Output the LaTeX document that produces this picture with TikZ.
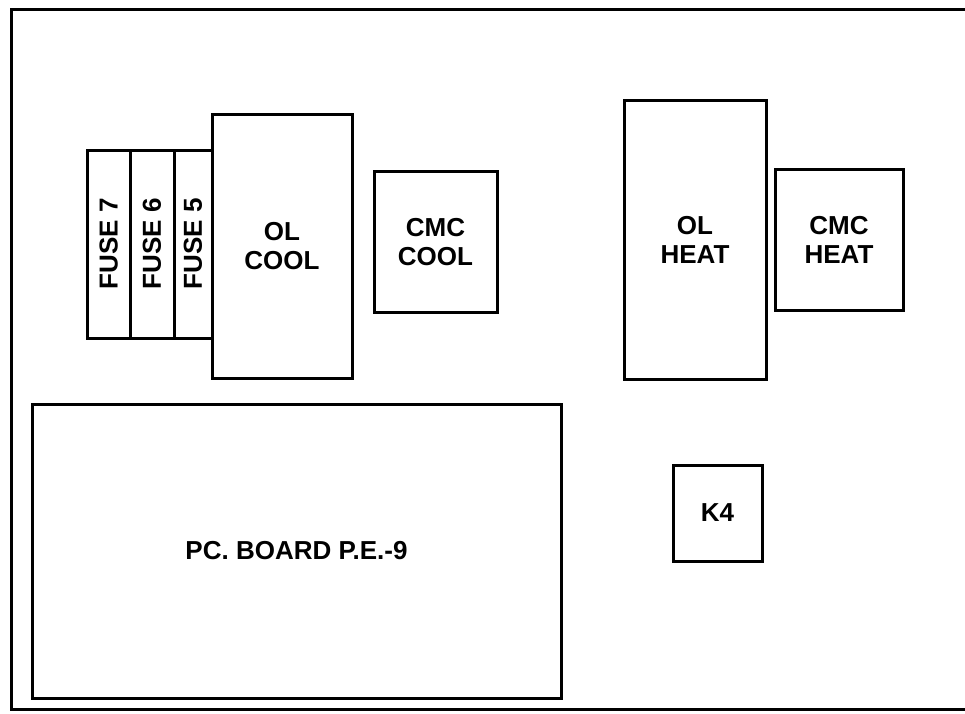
\documentclass[tikz,border=0pt]{standalone}
\usepackage{fontspec}
\setmainfont{Liberation Sans}
\usetikzlibrary{positioning}

\begin{document}
\begin{tikzpicture}[x=1pt,y=-1pt,
  part/.style={draw=black, line width=3pt, inner sep=0pt, align=center,
               font=\fontsize{26}{29}\selectfont\bfseries},
  fuse/.style={part, rotate=90, minimum width=188pt}
]
  \useasboundingbox (0,0) rectangle (965,713);

  % panel outline, open on the right
  \coordinate (tr) at (965,9);
  \coordinate (tl) at (11,9);
  \coordinate (bl) at (11,709);
  \coordinate (br) at (965,709);
  \draw[line width=3pt] (tr) -- (tl) -- (bl) -- (br);

  % cooling side
  \node[fuse, minimum height=42.5pt] (f7) at (108.75,244) {FUSE 7};
  \node[fuse, minimum height=44pt]   (f6) at (152,244)    {FUSE 6};
  \node[fuse, minimum height=38pt]   (f5) at (193,244)    {FUSE 5};
  \node[part, minimum width=140pt, minimum height=264pt] (olc)  at (282,246)   {OL\\COOL};
  \node[part, minimum width=123pt, minimum height=141pt] (cmcc) at (435.5,242) {CMC\\COOL};

  % heating side
  \node[part, minimum width=142pt, minimum height=279pt] (olh)  at (695,239.5) {OL\\HEAT};
  \node[part, minimum width=128pt, minimum height=141pt] (cmch) at (839,239.5) {CMC\\HEAT};

  % board and relay
  \node[part, minimum width=529pt, minimum height=294pt] (pcb) at (296.5,551) {PC. BOARD P.E.-9};
  \node[part, minimum width=89pt, minimum height=96pt]    (k4)  at (717.5,513) {K4};
\end{tikzpicture}
\end{document}
